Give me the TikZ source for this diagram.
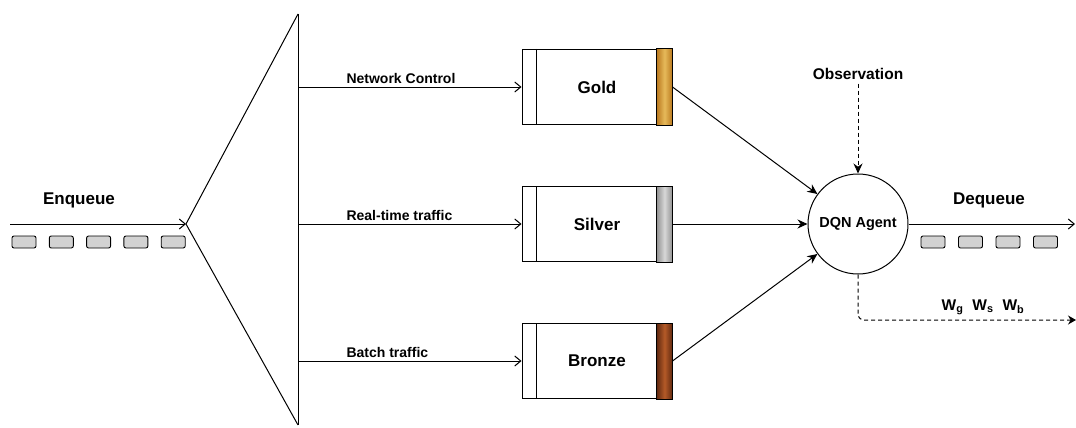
\documentclass[tikz,border=0pt]{standalone}
\usepackage{fontspec}
\setmainfont{Liberation Sans}
\usetikzlibrary{arrows.meta}

\definecolor{golddark}{RGB}{185,120,30}
\definecolor{goldlight}{RGB}{230,185,90}
\definecolor{silverdark}{RGB}{145,145,145}
\definecolor{silverlight}{RGB}{215,215,215}
\definecolor{bronzedark}{RGB}{95,40,15}
\definecolor{bronzelight}{RGB}{180,90,40}

\tikzset{
  queue/.style={draw, line width=1pt, minimum width=150pt, minimum height=75pt, inner sep=0pt,
    font=\fontsize{17}{20}\selectfont\bfseries},
  packet/.style={draw, line width=0.9pt, fill=gray!35, rounded corners=2pt,
    minimum width=24pt, minimum height=12pt, inner sep=0pt},
  lbl/.style={font=\fontsize{14}{16}\selectfont\bfseries},
  biglbl/.style={font=\fontsize{17}{20}\selectfont\bfseries},
  agent/.style={circle, draw, line width=1pt, minimum size=100pt, inner sep=0pt,
    font=\fontsize{14.5}{16}\selectfont\bfseries},
  open/.style={-{Straight Barb[length=6pt,width=10pt]}},
  solid/.style={-{Stealth[length=10pt,width=9pt]}},
  dashline/.style={dash pattern=on 4pt off 3pt}
}

\begin{document}
\begin{tikzpicture}[x=1pt, y=-1pt, line width=1pt]
\useasboundingbox (0,0) rectangle (1076,428);

\coordinate (inStart) at (10,224);
\coordinate (apex) at (186,224);
\coordinate (top) at (298,14);
\coordinate (bot) at (298,425);
\coordinate (b1) at (298,87);
\coordinate (b2) at (298,224);
\coordinate (b3) at (298,361);

\draw (top) -- (apex) -- (bot);
\draw (top) -- (bot);
\draw[open] (inStart) -- (apex);
\node[biglbl] (enq) at (79,200) {Enqueue};
\foreach \n in {0,...,4}
  \node[packet] (in\n) at ({24+37.3*\n},242) {};

\node[queue] (gold) at (597,87) {Gold};
\node[queue] (silver) at (597,224) {Silver};
\node[queue] (bronze) at (597,361) {Bronze};

\foreach \q/\cl/\cr in {gold/golddark/goldlight, silver/silverdark/silverlight, bronze/bronzedark/bronzelight} {
  \draw ([xshift=15pt]\q.north west) -- ([xshift=15pt]\q.south west);
  \shadedraw[left color=\cl, right color=\cl, middle color=\cr]
    ([xshift=-16pt]\q.north east) rectangle (\q.south east);
}

\draw[open] (b1) -- node[lbl, above right, pos=0.2] {Network Control} (gold.west);
\draw[open] (b2) -- node[lbl, above right, pos=0.2] {Real-time traffic} (silver.west);
\draw[open] (b3) -- node[lbl, above right, pos=0.2] {Batch traffic} (bronze.west);

\node[agent] (agent) at (858,224) {DQN Agent};
\draw[solid] (gold.east) -- (agent);
\draw[solid] (silver.east) -- (agent);
\draw[solid] (bronze.east) -- (agent);

\node[lbl, font=\fontsize{15.5}{18}\selectfont\bfseries] (obs) at (858,74) {Observation};
\draw[solid, dashline] (obs.south) -- (agent.north);

\coordinate (outEnd) at (1075,224);
\draw[open] (agent.east) -- (outEnd);
\node[biglbl] (deq) at (989,200) {Dequeue};
\foreach \n in {0,...,3}
  \node[packet] (out\n) at ({933+37.5*\n},242) {};

\coordinate (wCorner) at (858,320);
\coordinate (wEnd) at (1076,320);
\draw[-{Stealth[length=8pt,width=9pt]}, dashline, rounded corners=6pt] (agent.south) -- (wCorner) -- (wEnd);
\node[lbl, font=\fontsize{15.5}{18}\selectfont\bfseries] (weights) at (983,307) {W\textsubscript{g}\hspace{9pt}W\textsubscript{s}\hspace{9pt}W\textsubscript{b}};
\end{tikzpicture}
\end{document}
